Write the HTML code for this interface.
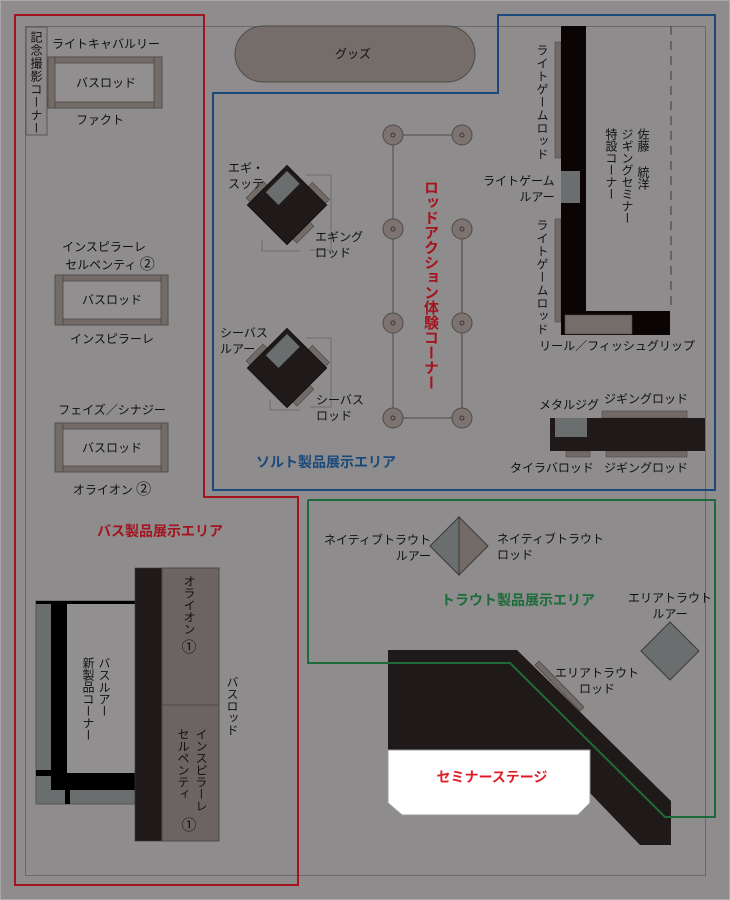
<!DOCTYPE html>
<html><head><meta charset="utf-8">
<style>
html,body{margin:0;padding:0;}
body{width:730px;height:900px;position:relative;overflow:hidden;background:#8e8c8d;font-family:"Liberation Sans","Noto Sans CJK JP",sans-serif;color:#111;}
svg{position:absolute;left:0;top:0;}
.t{position:absolute;font-size:12px;line-height:15px;white-space:nowrap;}
.c{transform:translateX(-50%);text-align:center;}
.v{writing-mode:vertical-rl;text-orientation:upright;font-size:12px;line-height:14px;position:absolute;white-space:nowrap;letter-spacing:0px;}
.b{font-weight:bold;font-size:14px;}
</style></head><body>
<svg width="730" height="900" viewBox="0 0 730 900">
<rect x="0.5" y="0.5" width="729" height="899" fill="#8e8c8d" stroke="#a9a7a8"/>
<rect x="25.5" y="26.5" width="680" height="849" fill="none" stroke="#6a6869"/>
<rect x="235" y="26" width="240" height="56" rx="28" fill="#756d69" stroke="#4e4a48"/>
<rect x="26" y="27" width="21" height="108" fill="#8c8889" stroke="#5a5657"/>
<g fill="#736b67" stroke="#4e4a48" stroke-width="0.8">
<rect x="48" y="57" width="114" height="51" fill="#918f90"/>
<rect x="48" y="57" width="7" height="51"/><rect x="154" y="57" width="8" height="51"/>
<rect x="55" y="57" width="99" height="6"/><rect x="55" y="102" width="99" height="6"/>
<rect x="55" y="275" width="113" height="50" fill="#918f90"/>
<rect x="55" y="275" width="8" height="50"/><rect x="161" y="275" width="7" height="50"/>
<rect x="63" y="275" width="98" height="6"/><rect x="63" y="319" width="98" height="6"/>
<rect x="55" y="423" width="113" height="49" fill="#918f90"/>
<rect x="55" y="423" width="8" height="49"/><rect x="161" y="423" width="7" height="49"/>
<rect x="63" y="423" width="98" height="6"/><rect x="63" y="466" width="98" height="6"/>
</g>
<polygon points="15,15 204,15 204,497 298,497 298,885 15,885" fill="none" stroke="#a3141e" stroke-width="2"/>
<polygon points="498,15 715,15 715,490 213,490 213,93 498,93" fill="none" stroke="#1b4a7a" stroke-width="2"/>
<g>
<polyline points="306,175 331,175 331,250 310,250" fill="none" stroke="#6f6d6e"/>
<polyline points="300,251 262,251 262,240" fill="none" stroke="#6f6d6e"/>
<g transform="translate(287,205) rotate(45)">
<rect x="2" y="-34" width="24" height="6" fill="#716a66" stroke="#3c3a3b" stroke-width="0.5"/>
<rect x="28" y="-4" width="6" height="24" fill="#716a66" stroke="#3c3a3b" stroke-width="0.5"/>
<rect x="-34" y="0" width="6" height="24" fill="#716a66" stroke="#3c3a3b" stroke-width="0.5"/>
<rect x="-28" y="-28" width="56" height="56" fill="#1f1a19" stroke="#111"/>
<rect x="-24" y="-24" width="18" height="30" fill="#6b6e6e"/>
</g>
<polyline points="306,338 331,338 331,407 310,407" fill="none" stroke="#6f6d6e"/>
<polyline points="300,410 270,410 270,400" fill="none" stroke="#6f6d6e"/>
<g transform="translate(287,368) rotate(45)">
<rect x="2" y="-34" width="24" height="6" fill="#716a66" stroke="#3c3a3b" stroke-width="0.5"/>
<rect x="28" y="-4" width="6" height="24" fill="#716a66" stroke="#3c3a3b" stroke-width="0.5"/>
<rect x="-34" y="0" width="6" height="24" fill="#716a66" stroke="#3c3a3b" stroke-width="0.5"/>
<rect x="-28" y="-28" width="56" height="56" fill="#1f1a19" stroke="#111"/>
<rect x="-24" y="-24" width="18" height="30" fill="#6b6e6e"/>
</g>
</g>
<g stroke="#4e4a48">
<line x1="393" y1="135" x2="393" y2="418"/>
<line x1="393" y1="135" x2="462" y2="135"/>
<line x1="393" y1="418" x2="462" y2="418"/>
<line x1="462" y1="229" x2="462" y2="418" stroke="#6a6566" stroke-width="2"/>
</g>
<g fill="#7d7471" stroke="#4e4a48">
<circle cx="393" cy="135" r="10"/><circle cx="462" cy="135" r="10"/>
<circle cx="393" cy="229" r="10"/><circle cx="462" cy="229" r="10"/>
<circle cx="393" cy="323" r="10"/><circle cx="462" cy="323" r="10"/>
<circle cx="393" cy="418" r="10"/><circle cx="462" cy="418" r="10"/>
</g>
<g fill="none" stroke="#3c3838"><circle cx="393" cy="135" r="2"/><circle cx="462" cy="135" r="2"/><circle cx="393" cy="229" r="2"/><circle cx="462" cy="229" r="2"/><circle cx="393" cy="323" r="2"/><circle cx="462" cy="323" r="2"/><circle cx="393" cy="418" r="2"/><circle cx="462" cy="418" r="2"/></g>
<rect x="555" y="42" width="6" height="116" fill="#716a66" stroke="#4e4a48" stroke-width="0.6"/>
<rect x="555" y="219" width="6" height="103" fill="#716a66" stroke="#4e4a48" stroke-width="0.6"/>
<rect x="561" y="26" width="25" height="309" fill="#0a0404"/>
<rect x="561" y="311" width="109" height="24" fill="#0a0404"/>
<rect x="565" y="315" width="67" height="19" fill="#756d69" stroke="#4e4a48" stroke-width="0.6"/>
<rect x="561" y="171" width="19" height="32" fill="#6b6e6e"/>
<line x1="671" y1="26" x2="671" y2="311" stroke="#3c3a3b" stroke-dasharray="9,6"/>
<rect x="602" y="411" width="85" height="7" fill="#716a66" stroke="#4e4a48" stroke-width="0.6"/>
<rect x="566" y="451" width="24" height="6" fill="#716a66" stroke="#4e4a48" stroke-width="0.6"/>
<rect x="606" y="451" width="81" height="6" fill="#716a66" stroke="#4e4a48" stroke-width="0.6"/>
<rect x="550" y="418" width="155" height="33" fill="#1f1a19"/>
<rect x="555" y="418" width="32" height="19" fill="#6b6e6e"/>
<polygon points="459,517 459,575 430,546" fill="#6b6e6e" stroke="#3c3a3b"/>
<polygon points="459,517 488,546 459,575" fill="#716a66" stroke="#3c3a3b"/>
<polygon points="670,622 699,651 670,680 641,651" fill="#6b6e6e" stroke="#3c3a3b"/>
<polygon points="388,650 517,650 671,801 671,845 640,845 590,793 388,793" fill="#1f1a19"/>
<polygon points="388,750 590,750 590,803 578,815 402,815 388,803" fill="#fff" stroke="#999"/>
<polygon points="535,665 539,661 584,707 580,711" fill="#716a66" stroke="#3c3a3b" stroke-width="0.6"/>
<polyline points="308,500 715,500 715,817 665,817 510,663 308,663 308,500" fill="none" stroke="#1d6b3a" stroke-width="2"/>
<rect x="36" y="601" width="99" height="203" fill="#6b6e6e" stroke="#555"/>
<rect x="67" y="604" width="68" height="169" fill="#918f90"/>
<rect x="36" y="601" width="99" height="3" fill="#000"/>
<rect x="51" y="601" width="16" height="189" fill="#000"/>
<rect x="51" y="773" width="84" height="17" fill="#000"/>
<rect x="36" y="770" width="15" height="6" fill="#000"/>
<rect x="65" y="790" width="5" height="14" fill="#000"/>
<rect x="135" y="568" width="27" height="273" fill="#1f1a19" stroke="#3c3a3b" stroke-width="0.6"/>
<rect x="162" y="568" width="57" height="137" fill="#6b6462" stroke="#4e4a48"/>
<rect x="162" y="705" width="57" height="136" fill="#6b6462" stroke="#4e4a48"/>
</svg>

<div class="t c" style="left:106px;top:37px">ライトキャバルリー</div>
<div class="t c" style="left:106px;top:76px">バスロッド</div>
<div class="t c" style="left:100px;top:113px">ファクト</div>
<div class="t c" style="left:104px;top:240px">インスピラーレ</div>
<div class="t c" style="left:110px;top:257px">セルペンティ <span style="font-size:15px">②</span></div>
<div class="t c" style="left:112px;top:293px">バスロッド</div>
<div class="t c" style="left:112px;top:332px">インスピラーレ</div>
<div class="t c" style="left:112px;top:403px">フェイズ／シナジー</div>
<div class="t c" style="left:112px;top:441px">バスロッド</div>
<div class="t c" style="left:112px;top:482px">オライオン <span style="font-size:15px">②</span></div>
<div class="t c b" style="left:160px;top:524px;color:#a3141e">バス製品展示エリア</div>
<div class="v" style="left:29px;top:31px;font-size:12px;line-height:14px;letter-spacing:1px">記念撮影コーナー</div>
<div class="t c" style="left:353px;top:47px">グッズ</div>
<div class="t" style="left:228px;top:160px;line-height:16px">エギ・<br>スッテ</div>
<div class="t" style="left:315px;top:229px;line-height:16px">エギング<br>ロッド</div>
<div class="t" style="left:220px;top:325px;line-height:16px">シーバス<br>ルアー</div>
<div class="t" style="left:316px;top:392px;line-height:16px">シーバス<br>ロッド</div>
<div class="v b" style="left:421px;top:180px;color:#a3141e;line-height:18px;font-size:15px">ロッドアクション体験コーナー</div>
<div class="t c b" style="left:326px;top:455px;color:#1b4a7a">ソルト製品展示エリア</div>
<div class="v" style="left:535px;top:44px;letter-spacing:1px">ライトゲームロッド</div>
<div class="v" style="left:535px;top:219px;letter-spacing:1px">ライトゲームロッド</div>
<div class="t" style="left:483px;top:173px;line-height:16px;text-align:right">ライトゲーム<br>ルアー</div>
<div class="v" style="left:603px;top:128px;line-height:16px">特設コーナー</div>
<div class="v" style="left:619px;top:128px;line-height:16px">ジギングセミナー</div>
<div class="v" style="left:635px;top:128px;line-height:16px">佐藤 統洋</div>
<div class="t c" style="left:617px;top:339px">リール／フィッシュグリップ</div>
<div class="t c" style="left:569px;top:398px">メタルジグ</div>
<div class="t c" style="left:646px;top:392px">ジギングロッド</div>
<div class="t c" style="left:552px;top:461px">タイラバロッド</div>
<div class="t c" style="left:646px;top:461px">ジギングロッド</div>
<div class="t" style="left:324px;top:532px;line-height:16px;text-align:right">ネイティブトラウト<br>ルアー</div>
<div class="t" style="left:497px;top:531px;line-height:16px">ネイティブトラウト<br>ロッド</div>
<div class="t c b" style="left:518px;top:593px;color:#1d6b3a">トラウト製品展示エリア</div>
<div class="t c" style="left:670px;top:590px;line-height:16px">エリアトラウト<br>ルアー</div>
<div class="t c" style="left:597px;top:665px;line-height:16px">エリアトラウト<br>ロッド</div>
<div class="t c b" style="left:492px;top:770px;color:#e01e2a">セミナーステージ</div>
<div class="v" style="left:96px;top:657px;line-height:16px">バスルアー</div>
<div class="v" style="left:80px;top:657px;line-height:16px">新製品コーナー</div>
<div class="v" style="left:182px;top:575px;line-height:14px">オライオン</div>
<div class="t c" style="left:189px;top:640px;font-size:15px">①</div>
<div class="v" style="left:193px;top:728px;line-height:16px">インスピラーレ</div>
<div class="v" style="left:175px;top:728px;line-height:16px">セルペンティ</div>
<div class="t c" style="left:189px;top:818px;font-size:15px">①</div>
<div class="v" style="left:225px;top:676px">バスロッド</div>
</body></html>
